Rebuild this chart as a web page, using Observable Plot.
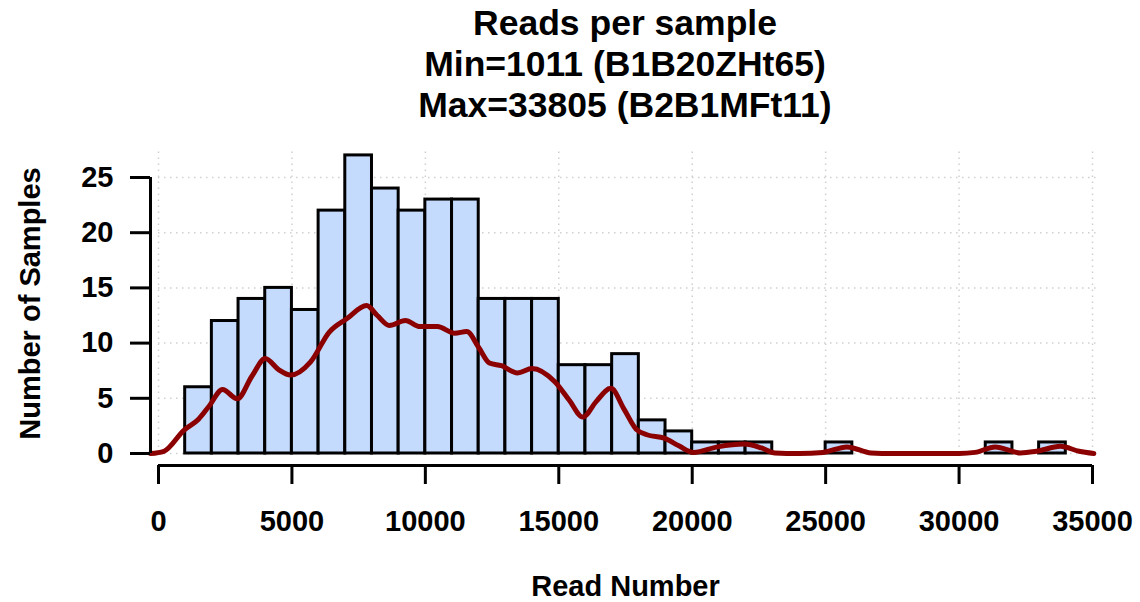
<!DOCTYPE html>
<html>
<head>
<meta charset="utf-8">
<script src="https://cdn.jsdelivr.net/npm/d3@7"></script>
<script src="https://cdn.jsdelivr.net/npm/@observablehq/plot@0.6"></script>
<style>
  html, body { margin: 0; padding: 0; background: #fff; }
  #wrap { position: relative; width: 1140px; height: 602px; overflow: hidden; font-family: "Liberation Sans", Arial, sans-serif; }
  #title { position: absolute; left: 0; top: 0; width: 1250px; height: 130px; padding-top: 3px; box-sizing: border-box;
           text-align: center; font-weight: bold; font-size: 35.5px; line-height: 41px; color: #000; }
  #chart { position: absolute; left: 0; top: 130px; }
</style>
</head>
<body>
<div id="wrap">
  <div id="title"></div>
  <div id="chart"></div>
</div>
<script>
// ---- data ----
const titleLines = ["Reads per sample", "Min=1011 (B1B20ZHt65)", "Max=33805 (B2B1MFt11)"];
const xLabel = "Read Number";
const yLabel = "Number of Samples";
const xTicks = [0, 5000, 10000, 15000, 20000, 25000, 30000, 35000];
const yTicks = [0, 5, 10, 15, 20, 25];
const binWidth = 1000;
const binStarts = [1000, 2000, 3000, 4000, 5000, 6000, 7000, 8000, 9000, 10000, 11000,
  12000, 13000, 14000, 15000, 16000, 17000, 18000, 19000, 20000, 21000, 22000, 23000,
  24000, 25000, 26000, 27000, 28000, 29000, 30000, 31000, 32000, 33000];
const counts = [6, 12, 14, 15, 13, 22, 27, 24, 22, 23, 23,
  14, 14, 14, 8, 8, 9, 3, 2, 1, 1, 1, 0,
  0, 1, 0, 0, 0, 0, 0, 1, 0, 1];
const densX = [-300, 200, 950, 1500, 1900, 2400, 2950, 3500, 4000, 4500, 4950, 5700, 6400, 7050,
  7800, 8200, 8650, 9250, 9800, 10450, 11100, 11550, 12000, 12400, 12850, 13450, 14000, 14850,
  15400, 15900, 16400, 16950, 17450, 17900, 18300, 18950, 19500, 20050, 20950, 21950, 22600,
  23100, 24000, 24900, 25800, 26700, 27500, 30000, 30600, 31350, 32300, 32900, 33800, 34500, 35050];
const densY = [0, 0.2, 2.1, 3.1, 4.3, 5.8, 4.95, 7.0, 8.6, 7.6, 7.1, 8.3, 11.0, 12.2,
  13.4, 12.5, 11.6, 12.05, 11.5, 11.5, 10.9, 11.05, 9.6, 8.2, 7.95, 7.3, 7.7, 6.5,
  4.8, 3.3, 4.7, 5.9, 4.0, 2.2, 1.7, 1.4, 0.7, 0.1, 0.6, 0.85, 0.5,
  0.05, 0, 0.1, 0.6, 0.05, 0, 0, 0.1, 0.6, 0.05, 0.2, 0.65, 0.2, 0];
const gridTopY = 27.6;
const gridRightX = 35180;

// ---- tables built from the arrays ----
const bins = binStarts.map((s, i) => ({x1: s, x2: s + binWidth, y: counts[i]}));
const dens = densX.map((x, i) => ({x, y: densY[i]}));

document.getElementById("title").innerHTML = titleLines.map(t => `<div>${t}</div>`).join("");

const font = "Liberation Sans, Arial, sans-serif";
const fs = 29;
const chart = Plot.plot({
  width: 1140,
  height: 472,
  marginLeft: 150,
  marginRight: 40,
  marginTop: 11,
  marginBottom: 137,
  style: {fontFamily: font, fontWeight: "bold", fontSize: fs + "px", background: "transparent", color: "#000"},
  x: {domain: [0, 35000], range: [158, 1092]},
  y: {domain: [0, 25], range: [323, 47]},
  marks: [
    // grid
    Plot.ruleX(xTicks, {y1: 0, y2: gridTopY, stroke: "#d0d0d0", strokeWidth: 1.5, strokeDasharray: "1.5,4.5"}),
    Plot.ruleY(yTicks, {x1: 0, x2: gridRightX, stroke: "#d0d0d0", strokeWidth: 1.5, strokeDasharray: "1.5,4.5"}),
    // histogram
    Plot.rect(bins, {x1: "x1", x2: "x2", y1: 0, y2: "y", fill: "#C4DBFD", stroke: "#000", strokeWidth: 3}),
    // density curve
    Plot.line(dens, {x: "x", y: "y", stroke: "#8B0000", strokeWidth: 5, curve: "monotone-x", strokeLinejoin: "round", strokeLinecap: "round"}),
    // x axis
    Plot.ruleY([0], {x1: 0, x2: 35000, dy: 12, stroke: "#000", strokeWidth: 3}),
    Plot.axisX(xTicks, {tickSize: 19, tickPadding: 26, strokeWidth: 3, fontSize: fs, fontWeight: "bold", tickFormat: d => String(d), label: null}),
    // y axis
    Plot.ruleX([0], {y1: 0, y2: 25, dx: -8, stroke: "#000", strokeWidth: 3}),
    Plot.axisY(yTicks, {tickSize: 20, tickPadding: 17, strokeWidth: 3, fontSize: fs, fontWeight: "bold", tickFormat: d => String(d), label: null}),
    // axis titles
    Plot.text([xLabel], {frameAnchor: "bottom", dy: 121, lineAnchor: "middle", fontSize: fs, fontWeight: "bold", fill: "#000"}),
    Plot.text([yLabel], {frameAnchor: "left", dx: -120, rotate: -90, textAnchor: "middle", lineAnchor: "middle", fontSize: fs, fontWeight: "bold", fill: "#000"})
  ]
});
document.getElementById("chart").appendChild(chart);
</script>
</body>
</html>
